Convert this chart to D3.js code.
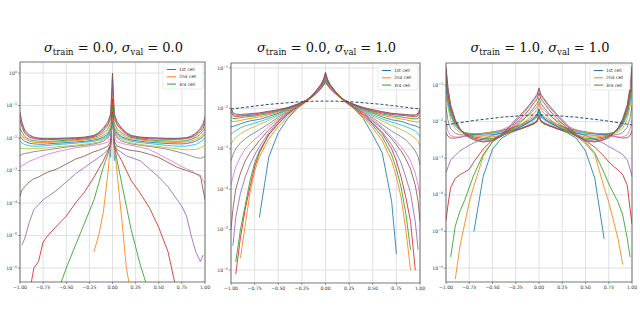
<!DOCTYPE html>
<html><head><meta charset="utf-8">
<script src="https://cdn.jsdelivr.net/npm/d3@7"></script>
<style>body{margin:0;background:#fff}svg{display:block}</style>
</head><body><svg id="c" width="640" height="331"></svg>
<script>
// ---------------- data (log10 of bin frequency) ----------------
const xGrid = [-1,-0.98,-0.95,-0.9,-0.85,-0.8,-0.75,-0.7,-0.6,-0.5,-0.4,-0.3,-0.2,-0.15,-0.1,-0.05,-0.02,0,0.02,0.05,0.1,0.15,0.2,0.3,0.4,0.5,0.6,0.7,0.75,0.8,0.85,0.9,0.95,0.98,1];
const xTicks = [-1,-0.75,-0.5,-0.25,0,0.25,0.5,0.75,1];
const sigmaTrain = ["0.0","0.0","1.0"];
const sigmaVal = ["0.0","1.0","1.0"];
const legendLabels = ["1st cell","2nd cell","3rd cell"];
const yTickExp1 = [0,-1,-2,-3,-4,-5,-6];
const yTickExp2 = [-1,-2,-3,-4,-5,-6];
const yTickExp3 = [-1,-2,-3,-4,-5,-6];
const n = null;

const p1Cells = [
 [n,n,n,n,n,n,n,n,n,n,n,n,n,n,n,n,-2.6,0.0,-2.7,n,n,n,n,n,n,n,n,n,n,n,n,n,n,n,n],
 [n,n,n,n,n,n,n,n,n,n,n,n,-5.5,-5.0,-4.3,-3.1,-2.1,-0.6,-2.2,-3.1,-4.5,-6.0,-6.8,n,n,n,n,n,n,n,n,n,n,n,n],
 [n,n,n,n,n,n,n,n,-6.8,-6.0,-5.3,-4.6,-3.9,-3.4,-2.9,-2.5,-2.2,-1.0,-2.2,-2.7,-3.4,-4.1,-4.8,-5.9,-6.8,n,n,n,n,n,n,n,n,n,n],
 [n,n,n,-6.8,-6.0,-5.8,-5.2,-5.0,-4.7,-4.4,-4.0,-3.65,-3.2,-2.95,-2.7,-2.4,-2.2,-1.2,-2.2,-2.45,-2.7,-3.0,-3.3,-3.7,-4.15,-4.75,-5.5,-6.8,n,n,n,n,n,n,n],
 [n,-5.3,-5.1,-4.6,-4.2,-4.05,-3.9,-3.8,-3.6,-3.35,-3.1,-2.9,-2.7,-2.6,-2.5,-2.35,-2.2,-1.3,-2.2,-2.35,-2.45,-2.55,-2.6,-2.7,-2.95,-3.2,-3.5,-3.9,-4.1,-4.4,-5.0,-5.5,-5.8,-5.6,n],
 [-3.8,-3.6,-3.5,-3.35,-3.25,-3.2,-3.12,-3.05,-2.95,-2.8,-2.65,-2.55,-2.42,-2.38,-2.32,-2.25,-2.1,-1.4,-2.1,-2.25,-2.3,-2.35,-2.38,-2.42,-2.5,-2.6,-2.75,-2.9,-2.95,-3.0,-3.05,-3.1,-3.15,-3.6,-3.9],
 [-2.9,-2.85,-2.8,-2.72,-2.66,-2.6,-2.55,-2.5,-2.42,-2.36,-2.3,-2.26,-2.22,-2.2,-2.17,-2.12,-2.0,-1.5,-2.0,-2.12,-2.16,-2.2,-2.22,-2.28,-2.35,-2.5,-2.65,-2.8,-2.88,-2.95,-3.0,-3.1,-3.2,-3.3,-3.4],
 [-2.55,-2.5,-2.48,-2.45,-2.42,-2.4,-2.38,-2.36,-2.32,-2.28,-2.25,-2.22,-2.18,-2.15,-2.1,-2.0,-1.85,-1.55,-1.85,-2.0,-2.1,-2.14,-2.18,-2.22,-2.26,-2.3,-2.35,-2.42,-2.46,-2.5,-2.55,-2.6,-2.62,-2.6,-2.55],
 [-2.3,-2.32,-2.33,-2.33,-2.33,-2.32,-2.31,-2.3,-2.27,-2.24,-2.22,-2.19,-2.15,-2.12,-2.06,-1.95,-1.8,-1.6,-1.8,-1.95,-2.05,-2.12,-2.15,-2.2,-2.23,-2.26,-2.3,-2.33,-2.35,-2.36,-2.36,-2.35,-2.3,-2.25,-2.2],
 [-2.1,-2.15,-2.2,-2.24,-2.25,-2.25,-2.24,-2.23,-2.2,-2.18,-2.16,-2.13,-2.1,-2.07,-2.02,-1.92,-1.78,-1.6,-1.78,-1.9,-2.0,-2.06,-2.1,-2.14,-2.17,-2.2,-2.23,-2.25,-2.25,-2.25,-2.22,-2.2,-2.12,-2.05,-2.0],
 [-1.95,-2.02,-2.1,-2.16,-2.18,-2.19,-2.19,-2.18,-2.16,-2.14,-2.12,-2.1,-2.06,-2.03,-1.97,-1.88,-1.72,-1.5,-1.72,-1.86,-1.96,-2.02,-2.06,-2.1,-2.13,-2.15,-2.17,-2.18,-2.18,-2.17,-2.14,-2.1,-2.02,-1.95,-1.88],
 [-1.85,-1.93,-2.02,-2.1,-2.13,-2.14,-2.14,-2.14,-2.12,-2.1,-2.08,-2.06,-2.02,-1.98,-1.92,-1.82,-1.66,-1.4,-1.66,-1.8,-1.9,-1.97,-2.02,-2.06,-2.09,-2.11,-2.13,-2.14,-2.13,-2.12,-2.09,-2.04,-1.96,-1.88,-1.8],
 [-1.7,-1.82,-1.95,-2.05,-2.08,-2.1,-2.1,-2.1,-2.09,-2.07,-2.05,-2.03,-1.98,-1.93,-1.85,-1.72,-1.55,-1.25,-1.55,-1.72,-1.84,-1.92,-1.98,-2.03,-2.06,-2.08,-2.09,-2.1,-2.09,-2.08,-2.04,-1.98,-1.88,-1.78,-1.7],
 [-1.45,-1.65,-1.85,-1.97,-2.02,-2.04,-2.05,-2.05,-2.04,-2.03,-2.02,-2.0,-1.95,-1.88,-1.78,-1.6,-1.4,-0.8,-1.4,-1.6,-1.76,-1.87,-1.95,-2.0,-2.02,-2.03,-2.04,-2.04,-2.03,-2.02,-1.98,-1.92,-1.8,-1.7,-1.55],
 [-1.3,-1.55,-1.8,-1.93,-1.99,-2.01,-2.02,-2.02,-2.02,-2.01,-2.0,-1.98,-1.93,-1.85,-1.73,-1.55,-1.3,-0.4,-1.3,-1.55,-1.72,-1.84,-1.93,-1.98,-2.0,-2.01,-2.02,-2.02,-2.01,-2.0,-1.96,-1.88,-1.75,-1.62,-1.45],
 [-1.2,-1.5,-1.75,-1.9,-1.97,-2.0,-2.01,-2.01,-2.01,-2.0,-1.99,-1.97,-1.92,-1.83,-1.7,-1.5,-1.25,0.0,-1.25,-1.5,-1.7,-1.83,-1.92,-1.97,-1.99,-2.0,-2.01,-2.01,-2.0,-1.99,-1.94,-1.85,-1.7,-1.55,-1.35]
];

const p2Cells = [
 [n,n,n,n,n,n,n,-4.7,-3.2,-2.6,-2.25,-2.0,-1.8,-1.7,-1.6,-1.5,-1.43,-1.35,-1.43,-1.5,-1.6,-1.7,-1.8,-2.0,-2.25,-2.65,-3.1,-4.3,-5.6,n,n,n,n,n,n],
 [n,n,n,-5.7,-4.9,-4.1,-3.55,-3.2,-2.75,-2.45,-2.2,-2.0,-1.83,-1.74,-1.64,-1.52,-1.43,-1.3,-1.42,-1.52,-1.63,-1.73,-1.83,-2.0,-2.22,-2.48,-2.8,-3.3,-3.7,-4.2,-5.0,-6.0,n,n,n],
 [n,n,-5.8,-5.0,-4.4,-3.8,-3.35,-3.05,-2.65,-2.38,-2.15,-1.97,-1.82,-1.73,-1.63,-1.52,-1.42,-1.3,-1.42,-1.51,-1.62,-1.72,-1.82,-1.98,-2.18,-2.42,-2.7,-3.15,-3.5,-3.95,-4.6,-5.5,n,n,n],
 [n,n,-6.1,-5.2,-4.5,-3.95,-3.45,-3.1,-2.65,-2.37,-2.14,-1.96,-1.82,-1.72,-1.62,-1.5,-1.4,-1.28,-1.4,-1.5,-1.61,-1.71,-1.81,-1.97,-2.16,-2.38,-2.62,-3.0,-3.3,-3.7,-4.2,-4.8,-6.0,n,n],
 [n,-5.4,-4.7,-4.1,-3.7,-3.4,-3.15,-2.95,-2.6,-2.33,-2.12,-1.95,-1.8,-1.71,-1.61,-1.5,-1.4,-1.28,-1.4,-1.5,-1.6,-1.7,-1.8,-1.95,-2.13,-2.35,-2.58,-2.9,-3.1,-3.35,-3.7,-4.1,-4.8,-5.5,n],
 [-5.0,-4.5,-4.0,-3.6,-3.3,-3.1,-2.95,-2.8,-2.53,-2.3,-2.1,-1.94,-1.8,-1.71,-1.6,-1.49,-1.39,-1.27,-1.39,-1.49,-1.6,-1.7,-1.8,-1.94,-2.11,-2.31,-2.5,-2.75,-2.9,-3.05,-3.25,-3.5,-3.9,-4.3,-4.8],
 [-3.9,-3.7,-3.45,-3.2,-3.0,-2.88,-2.77,-2.67,-2.45,-2.26,-2.08,-1.93,-1.79,-1.7,-1.6,-1.49,-1.38,-1.26,-1.38,-1.49,-1.6,-1.7,-1.79,-1.93,-2.09,-2.27,-2.47,-2.7,-2.82,-2.95,-3.1,-3.3,-3.6,-3.9,-4.2],
 [-3.3,-3.15,-3.0,-2.85,-2.75,-2.67,-2.6,-2.53,-2.38,-2.22,-2.06,-1.92,-1.79,-1.7,-1.6,-1.48,-1.37,-1.25,-1.37,-1.48,-1.6,-1.7,-1.79,-1.92,-2.07,-2.23,-2.4,-2.56,-2.63,-2.7,-2.78,-2.9,-3.05,-3.2,-3.4],
 [-2.9,-2.8,-2.72,-2.63,-2.56,-2.5,-2.45,-2.4,-2.3,-2.18,-2.05,-1.92,-1.79,-1.7,-1.59,-1.47,-1.36,-1.23,-1.36,-1.47,-1.59,-1.7,-1.79,-1.92,-2.05,-2.19,-2.31,-2.42,-2.47,-2.52,-2.58,-2.65,-2.74,-2.82,-2.95],
 [-2.65,-2.6,-2.55,-2.48,-2.43,-2.4,-2.36,-2.33,-2.25,-2.15,-2.03,-1.92,-1.8,-1.7,-1.59,-1.46,-1.35,-1.22,-1.35,-1.46,-1.59,-1.7,-1.8,-1.92,-2.04,-2.16,-2.26,-2.34,-2.37,-2.41,-2.45,-2.5,-2.56,-2.62,-2.7],
 [-2.45,-2.45,-2.42,-2.38,-2.34,-2.31,-2.29,-2.27,-2.2,-2.12,-2.02,-1.92,-1.8,-1.7,-1.58,-1.45,-1.34,-1.2,-1.34,-1.45,-1.58,-1.7,-1.8,-1.92,-2.02,-2.12,-2.21,-2.28,-2.3,-2.32,-2.36,-2.4,-2.43,-2.46,-2.48],
 [-2.3,-2.33,-2.32,-2.3,-2.27,-2.25,-2.23,-2.21,-2.16,-2.1,-2.01,-1.91,-1.8,-1.7,-1.58,-1.45,-1.33,-1.19,-1.33,-1.45,-1.58,-1.7,-1.8,-1.91,-2.01,-2.1,-2.17,-2.22,-2.24,-2.26,-2.28,-2.31,-2.33,-2.34,-2.3],
 [-2.2,-2.25,-2.25,-2.23,-2.21,-2.2,-2.19,-2.17,-2.13,-2.07,-2.0,-1.91,-1.8,-1.7,-1.57,-1.44,-1.32,-1.17,-1.32,-1.44,-1.57,-1.7,-1.8,-1.91,-2.0,-2.08,-2.14,-2.18,-2.2,-2.21,-2.23,-2.25,-2.26,-2.25,-2.18],
 [-2.08,-2.18,-2.2,-2.19,-2.18,-2.17,-2.16,-2.14,-2.1,-2.05,-1.99,-1.9,-1.8,-1.71,-1.57,-1.43,-1.3,-1.15,-1.3,-1.43,-1.57,-1.71,-1.8,-1.9,-1.99,-2.06,-2.11,-2.15,-2.16,-2.17,-2.18,-2.2,-2.21,-2.18,-2.08],
 [-2.02,-2.14,-2.17,-2.17,-2.16,-2.15,-2.14,-2.12,-2.08,-2.04,-1.98,-1.9,-1.8,-1.71,-1.57,-1.42,-1.29,-1.13,-1.29,-1.42,-1.57,-1.71,-1.8,-1.9,-1.98,-2.04,-2.09,-2.13,-2.14,-2.15,-2.16,-2.17,-2.18,-2.14,-2.02],
 [-1.98,-2.1,-2.14,-2.15,-2.14,-2.13,-2.12,-2.11,-2.07,-2.03,-1.98,-1.9,-1.8,-1.71,-1.56,-1.41,-1.27,-1.1,-1.27,-1.41,-1.56,-1.71,-1.8,-1.9,-1.98,-2.03,-2.08,-2.12,-2.13,-2.14,-2.15,-2.16,-2.16,-2.12,-2.0]
];
const p2Reference = [-2.02,-2.01,-2.0,-1.99,-1.97,-1.96,-1.94,-1.93,-1.9,-1.88,-1.86,-1.84,-1.83,-1.825,-1.82,-1.82,-1.82,-1.82,-1.82,-1.82,-1.82,-1.825,-1.83,-1.84,-1.86,-1.88,-1.9,-1.93,-1.94,-1.96,-1.97,-1.99,-2.0,-2.01,-2.02];

const p3Cells = [
 [n,n,n,n,n,n,n,-5.0,-3.5,-2.75,-2.45,-2.3,-2.2,-2.15,-2.1,-2.05,-2.0,-1.85,-2.0,-2.05,-2.1,-2.14,-2.2,-2.3,-2.45,-2.8,-3.55,-5.2,n,n,n,n,n,n,n],
 [n,n,n,-6.3,-5.4,-4.8,-4.2,-3.75,-2.95,-2.55,-2.38,-2.28,-2.2,-2.16,-2.12,-2.06,-2.0,-1.85,-2.0,-2.06,-2.11,-2.15,-2.2,-2.28,-2.4,-2.6,-2.9,-3.8,-4.2,-4.7,-5.2,-5.9,n,n,n],
 [n,n,-5.7,-4.85,-4.45,-4.15,-3.8,-3.45,-2.9,-2.55,-2.38,-2.28,-2.2,-2.15,-2.1,-2.05,-1.99,-1.84,-1.99,-2.05,-2.1,-2.15,-2.2,-2.28,-2.38,-2.56,-2.85,-3.4,-3.7,-3.95,-4.2,-4.55,-5.2,-5.7,n],
 [-4.7,-4.3,-3.8,-3.55,-3.45,-3.38,-3.3,-3.1,-2.75,-2.5,-2.35,-2.25,-2.2,-2.15,-2.1,-2.04,-1.98,-1.82,-1.98,-2.04,-2.1,-2.15,-2.2,-2.25,-2.36,-2.52,-2.7,-2.95,-3.1,-3.22,-3.32,-3.45,-3.75,-4.4,-4.8],
 [-3.4,-3.25,-3.05,-2.92,-2.8,-2.72,-2.65,-2.58,-2.47,-2.38,-2.3,-2.24,-2.18,-2.13,-2.08,-2.02,-1.96,-1.8,-1.96,-2.02,-2.08,-2.13,-2.18,-2.24,-2.3,-2.38,-2.48,-2.6,-2.68,-2.75,-2.82,-2.9,-3.05,-3.3,-3.5],
 [-2.3,-2.4,-2.45,-2.45,-2.43,-2.4,-2.38,-2.36,-2.32,-2.28,-2.24,-2.18,-2.1,-2.05,-2.0,-1.92,-1.85,-1.7,-1.85,-1.92,-2.0,-2.05,-2.1,-2.18,-2.24,-2.28,-2.32,-2.36,-2.38,-2.4,-2.43,-2.45,-2.44,-2.38,-2.25],
 [-2.0,-2.25,-2.38,-2.42,-2.42,-2.4,-2.38,-2.36,-2.33,-2.3,-2.22,-2.12,-1.98,-1.9,-1.8,-1.68,-1.58,-1.45,-1.58,-1.68,-1.8,-1.9,-1.98,-2.12,-2.22,-2.3,-2.33,-2.36,-2.38,-2.4,-2.42,-2.42,-2.36,-2.2,-1.95],
 [-1.6,-1.95,-2.2,-2.32,-2.36,-2.37,-2.36,-2.35,-2.33,-2.3,-2.25,-2.18,-2.08,-2.02,-1.95,-1.86,-1.8,-1.65,-1.8,-1.86,-1.95,-2.02,-2.08,-2.18,-2.25,-2.3,-2.33,-2.35,-2.36,-2.37,-2.35,-2.3,-2.15,-1.9,-1.55],
 [-1.3,-1.6,-1.95,-2.2,-2.3,-2.33,-2.34,-2.34,-2.32,-2.3,-2.26,-2.2,-2.12,-2.07,-2.0,-1.92,-1.85,-1.7,-1.85,-1.92,-2.0,-2.07,-2.12,-2.2,-2.26,-2.3,-2.32,-2.34,-2.34,-2.33,-2.28,-2.18,-1.92,-1.58,-1.25],
 [-1.1,-1.5,-1.85,-2.12,-2.25,-2.3,-2.32,-2.33,-2.33,-2.32,-2.28,-2.22,-2.14,-2.08,-2.02,-1.94,-1.87,-1.72,-1.87,-1.94,-2.02,-2.08,-2.14,-2.22,-2.28,-2.32,-2.33,-2.33,-2.32,-2.3,-2.24,-2.1,-1.82,-1.45,-1.05],
 [-0.95,-1.4,-1.78,-2.08,-2.23,-2.3,-2.34,-2.36,-2.37,-2.36,-2.32,-2.25,-2.15,-2.08,-2.0,-1.9,-1.82,-1.65,-1.82,-1.9,-2.0,-2.08,-2.15,-2.25,-2.32,-2.36,-2.37,-2.36,-2.34,-2.3,-2.22,-2.06,-1.75,-1.38,-0.9],
 [-0.85,-1.32,-1.72,-2.05,-2.22,-2.3,-2.36,-2.39,-2.42,-2.42,-2.36,-2.25,-2.1,-2.0,-1.9,-1.76,-1.66,-1.5,-1.66,-1.76,-1.9,-2.0,-2.1,-2.25,-2.36,-2.42,-2.42,-2.39,-2.36,-2.3,-2.2,-2.03,-1.7,-1.3,-0.82],
 [-0.75,-1.25,-1.68,-2.03,-2.22,-2.32,-2.38,-2.42,-2.46,-2.46,-2.38,-2.22,-2.02,-1.9,-1.76,-1.6,-1.5,-1.35,-1.5,-1.6,-1.76,-1.9,-2.02,-2.22,-2.38,-2.46,-2.46,-2.42,-2.38,-2.32,-2.2,-2.0,-1.65,-1.22,-0.72],
 [-0.65,-1.18,-1.63,-2.0,-2.2,-2.33,-2.4,-2.45,-2.5,-2.5,-2.4,-2.18,-1.93,-1.8,-1.65,-1.48,-1.38,-1.22,-1.38,-1.48,-1.65,-1.8,-1.93,-2.18,-2.4,-2.5,-2.5,-2.45,-2.4,-2.32,-2.18,-1.98,-1.6,-1.15,-0.62],
 [-0.55,-1.1,-1.58,-1.97,-2.2,-2.34,-2.42,-2.48,-2.54,-2.52,-2.38,-2.12,-1.86,-1.72,-1.57,-1.4,-1.3,-1.12,-1.3,-1.4,-1.57,-1.72,-1.86,-2.12,-2.38,-2.52,-2.54,-2.48,-2.42,-2.33,-2.18,-1.95,-1.56,-1.08,-0.52],
 [-0.5,-1.05,-1.55,-1.95,-2.19,-2.35,-2.44,-2.5,-2.56,-2.52,-2.35,-2.08,-1.82,-1.68,-1.53,-1.36,-1.25,-1.08,-1.25,-1.36,-1.53,-1.68,-1.82,-2.08,-2.35,-2.52,-2.56,-2.5,-2.44,-2.34,-2.17,-1.93,-1.53,-1.03,-0.48]
];
const p3Reference = [-2.09,-2.08,-2.07,-2.05,-2.03,-2.01,-1.99,-1.97,-1.94,-1.91,-1.88,-1.86,-1.84,-1.83,-1.825,-1.82,-1.82,-1.82,-1.82,-1.82,-1.825,-1.83,-1.84,-1.86,-1.88,-1.91,-1.94,-1.97,-1.99,-2.01,-2.03,-2.05,-2.07,-2.08,-2.09];

// ---------------- layout ----------------
const palette = ["#1f77b4","#ff7f0e","#2ca02c","#d62728","#9467bd","#8c564b","#e377c2","#7f7f7f","#bcbd22","#17becf"];
const panels = [
  {l:20, r:205, t:62, b:282, yLo:-6.43, yHi:0.34, ticks:yTickExp1, cells:p1Cells, ref:null},
  {l:231, r:420, t:63, b:283, yLo:-6.32, yHi:-0.876, ticks:yTickExp2, cells:p2Cells, ref:p2Reference},
  {l:446, r:632, t:63, b:282, yLo:-6.38, yHi:-0.40, ticks:yTickExp3, cells:p3Cells, ref:p3Reference}
];

const svg = d3.select("#c");
const fontSans = "DejaVu Sans, sans-serif";

panels.forEach((P, pi) => {
  const g = svg.append("g");
  const x = d3.scaleLinear().domain([-1, 1]).range([P.l, P.r]);
  const y = d3.scaleLog().domain([Math.pow(10, P.yLo), Math.pow(10, P.yHi)]).range([P.b, P.t]);

  // grid
  g.selectAll(".vg").data(xTicks).join("line")
    .attr("x1", d => x(d)).attr("x2", d => x(d)).attr("y1", P.t).attr("y2", P.b)
    .attr("stroke", "#d9d9d9").attr("stroke-width", 0.8);
  g.selectAll(".hg").data(P.ticks).join("line")
    .attr("x1", P.l).attr("x2", P.r).attr("y1", d => y(Math.pow(10, d))).attr("y2", d => y(Math.pow(10, d)))
    .attr("stroke", "#d9d9d9").attr("stroke-width", 0.8);

  const clipId = "clip" + pi;
  svg.append("clipPath").attr("id", clipId).append("rect")
    .attr("x", P.l).attr("y", P.t).attr("width", P.r - P.l).attr("height", P.b - P.t);

  const line = d3.line()
    .defined(d => d[1] !== null)
    .x(d => x(d[0]))
    .y(d => y(Math.pow(10, d[1])));

  const lg = g.append("g").attr("clip-path", `url(#${clipId})`);
  P.cells.forEach((row, i) => {
    lg.append("path")
      .attr("d", line(xGrid.map((xv, k) => [xv, row[k]])))
      .attr("fill", "none")
      .attr("stroke", palette[i % 10])
      .attr("stroke-width", 1)
      .attr("stroke-opacity", 0.85)
      .attr("stroke-linejoin", "round");
  });
  if (P.ref) {
    lg.append("path")
      .attr("d", line(xGrid.map((xv, k) => [xv, P.ref[k]])))
      .attr("fill", "none")
      .attr("stroke", "#27408b")
      .attr("stroke-width", 1)
      .attr("stroke-dasharray", "3,2");
  }

  // frame
  g.append("rect").attr("x", P.l).attr("y", P.t).attr("width", P.r - P.l).attr("height", P.b - P.t)
    .attr("fill", "none").attr("stroke", "#555").attr("stroke-width", 0.8);

  // x ticks
  g.selectAll(".xt").data(xTicks).join("line")
    .attr("x1", d => x(d)).attr("x2", d => x(d)).attr("y1", P.b).attr("y2", P.b + 2)
    .attr("stroke", "#555").attr("stroke-width", 0.6);
  g.selectAll(".xl").data(xTicks).join("text")
    .attr("x", d => x(d)).attr("y", P.b + 7)
    .attr("text-anchor", "middle").attr("font-family", fontSans).attr("font-size", 4.6).attr("fill", "#333")
    .text(d => d3.format(".2f")(d).replace("-", "\u2212"));

  // y ticks
  g.selectAll(".yt").data(P.ticks).join("line")
    .attr("x1", P.l - 2).attr("x2", P.l).attr("y1", d => y(Math.pow(10, d))).attr("y2", d => y(Math.pow(10, d)))
    .attr("stroke", "#555").attr("stroke-width", 0.6);
  const yl = g.selectAll(".yl").data(P.ticks).join("text")
    .attr("x", P.l - 3).attr("y", d => y(Math.pow(10, d)) + 1.6)
    .attr("text-anchor", "end").attr("font-family", fontSans).attr("font-size", 4.6).attr("fill", "#333");
  yl.append("tspan").text("10");
  yl.append("tspan").attr("dy", -2).attr("font-size", 3.3).text(d => d === 0 ? "0" : "\u2212" + Math.abs(d));

  // title
  const tt = g.append("text")
    .attr("x", (P.l + P.r) / 2 + 1).attr("y", 52)
    .attr("text-anchor", "middle").attr("font-family", "DejaVu Serif, serif").attr("font-size", 13).attr("fill", "#111");
  tt.append("tspan").attr("font-style", "italic").text("\u03c3");
  tt.append("tspan").attr("font-size", 8.5).attr("dy", 3).text("train");
  tt.append("tspan").attr("dy", -3).text(" = " + sigmaTrain[pi] + ", ");
  tt.append("tspan").attr("font-style", "italic").text("\u03c3");
  tt.append("tspan").attr("font-size", 8.5).attr("dy", 3).text("val");
  tt.append("tspan").attr("dy", -3).text(" = " + sigmaVal[pi]);

  // legend
  const lx = P.r - 42, ly = P.t + 2;
  g.append("rect").attr("x", lx).attr("y", ly).attr("width", 40).attr("height", 25).attr("rx", 1.5)
    .attr("fill", "#fff").attr("fill-opacity", 0.85).attr("stroke", "#ddd").attr("stroke-width", 0.6);
  legendLabels.forEach((lab, i) => {
    const yy = ly + 5.5 + i * 7.3;
    g.append("line").attr("x1", lx + 4).attr("x2", lx + 13).attr("y1", yy).attr("y2", yy)
      .attr("stroke", palette[i]).attr("stroke-width", 1);
    g.append("text").attr("x", lx + 16).attr("y", yy + 1.6)
      .attr("font-family", fontSans).attr("font-size", 4.4).attr("fill", "#333").text(lab);
  });
});
</script>
</body></html>
